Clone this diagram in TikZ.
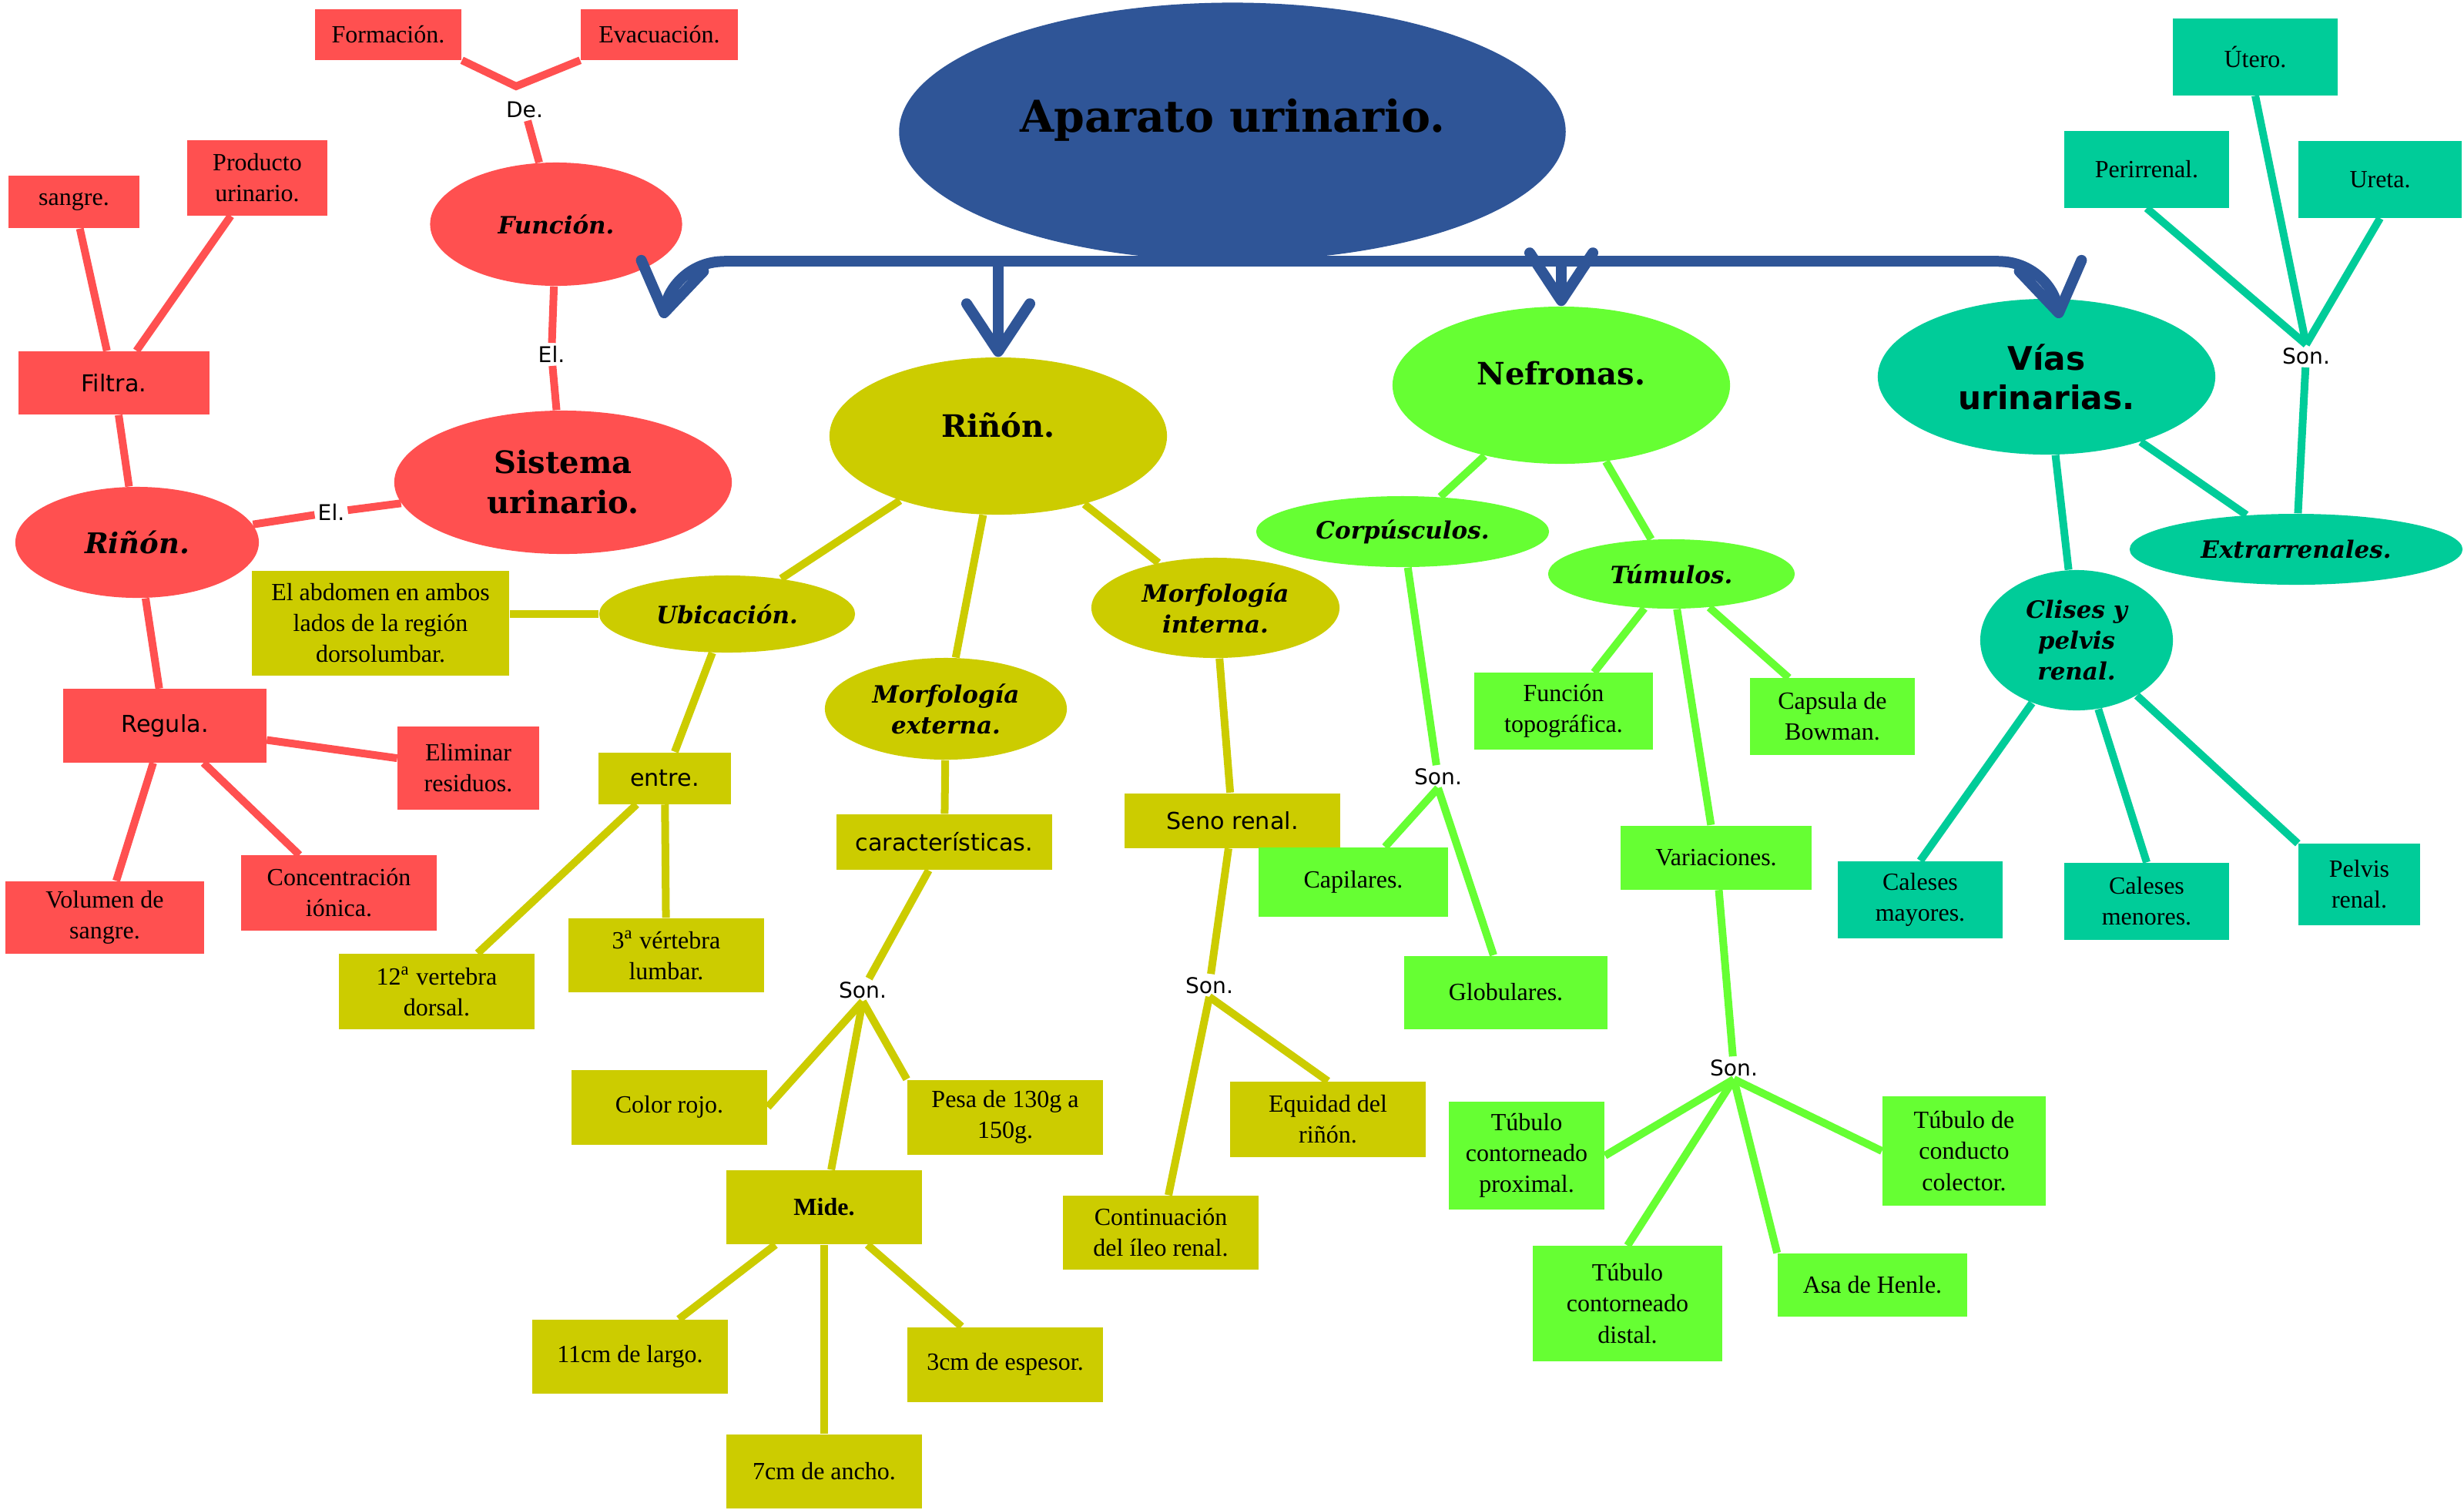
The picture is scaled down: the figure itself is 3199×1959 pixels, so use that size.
\documentclass[tikz,border=0pt]{standalone}
\usepackage{fontspec}
\setmainfont{Liberation Serif}
\newfontfamily\titulofont{DejaVu Serif}
\newfontfamily\palofont{DejaVu Sans}
\usetikzlibrary{shapes.geometric,arrows.meta}

\definecolor{rojo}{HTML}{FF5050}
\definecolor{oliva}{HTML}{CCCC00}
\definecolor{verde}{HTML}{66FF33}
\definecolor{turq}{HTML}{00CC99}
\definecolor{azul}{HTML}{2F5597}

\newcommand{\cajaf}{\fontsize{9.1pt}{11.4pt}\selectfont}
\newcommand{\titf}{\titulofont\bfseries\fontsize{11.4pt}{14.8pt}\selectfont}
\newcommand{\grandef}{\titulofont\bfseries\fontsize{16.2pt}{20pt}\selectfont}
\newcommand{\viasf}{\palofont\bfseries\fontsize{12pt}{14.5pt}\selectfont}
\newcommand{\italf}{\titulofont\bfseries\itshape\fontsize{8.8pt}{11.4pt}\selectfont}
\newcommand{\manof}{\palofont\fontsize{8.6pt}{10pt}\selectfont}
\newcommand{\nexof}{\palofont\fontsize{8pt}{10pt}\selectfont}

\begin{document}
\begin{tikzpicture}[x=0.01cm, y=-0.01cm,
    caja/.style={rectangle, inner sep=2pt, align=center, font=\cajaf},
    elip/.style={ellipse, inner sep=0pt, align=center},
    tam/.style 2 args={minimum width=#1, minimum height=#2},
    nexo/.style={inner sep=1pt, font=\nexof},
    rama/.style={line width=0.1cm},
    flecha/.style={azul, line width=0.14cm, -{Straight Barb[length=0.62cm, width=0.82cm, round]}}]
  \useasboundingbox (0,0) rectangle (3199,1959);

  % centro
  \node[elip, fill=azul, tam={8.65cm}{3.35cm}, text depth=12pt, font=\grandef] (aparato) at (1600,171) {Aparato urinario.};

  % sistema urinario (rojo)
  \node[caja, fill=rojo, tam={1.9cm}{0.65cm}] (form) at (504,45) {Formación.};
  \node[caja, fill=rojo, tam={2.04cm}{0.65cm}] (evac) at (856,45) {Evacuación.};
  \coordinate (deJ) at (670,112);
  \node[nexo] (deL) at (681,142) {De.};
  \node[elip, fill=rojo, tam={3.27cm}{1.6cm}, font=\italf] (funcion) at (722,291) {Función.};
  \node[nexo] (elA) at (716,460) {El.};
  \node[elip, fill=rojo, tam={4.38cm}{1.86cm}, font=\titf] (sistema) at (731,626) {Sistema\\urinario.};
  \node[nexo] (elB) at (430,665) {El.};
  \node[elip, fill=rojo, tam={3.16cm}{1.44cm}, font=\italf\fontsize{10.5pt}{12pt}\selectfont] (rinr) at (178,704) {Riñón.};
  \node[caja, fill=rojo, tam={1.7cm}{0.68cm}] (sangre) at (96,262) {sangre.};
  \node[caja, fill=rojo, tam={1.81cm}{0.97cm}] (producto) at (334,231) {Producto\\urinario.};
  \node[caja, fill=rojo, tam={2.47cm}{0.82cm}, font=\manof] (filtra) at (148,497) {Filtra.};
  \node[caja, fill=rojo, tam={2.63cm}{0.95cm}, font=\manof] (regula) at (214,942) {Regula.};
  \node[caja, fill=rojo, tam={1.83cm}{1.08cm}] (elim) at (608,997) {Eliminar\\residuos.};
  \node[caja, fill=rojo, tam={2.54cm}{0.97cm}] (conc) at (440,1159) {Concentración\\iónica.};
  \node[caja, fill=rojo, tam={2.58cm}{0.94cm}] (vol) at (136,1191) {Volumen de\\sangre.};

  \draw[rama, rojo] (form.south east) -- (deJ) -- (evac.south west);
  \draw[rama, rojo] (deL) -- (funcion);
  \draw[rama, rojo] (funcion) -- (elA);
  \draw[rama, rojo] (elA) -- (sistema);
  \draw[rama, rojo] (sistema) -- (elB);
  \draw[rama, rojo] (elB) -- (rinr);
  \draw[rama, rojo] (sangre) -- (filtra);
  \draw[rama, rojo] (producto) -- (filtra);
  \draw[rama, rojo] (filtra) -- (rinr);
  \draw[rama, rojo] (rinr) -- (regula);
  \draw[rama, rojo] (regula) -- (elim);
  \draw[rama, rojo] (regula) -- (conc);
  \draw[rama, rojo] (regula) -- (vol);

  % rinon (oliva)
  \node[elip, fill=oliva, tam={4.38cm}{2.04cm}, text depth=8pt, font=\titf] (riny) at (1296,566) {Riñón.};
  \node[elip, fill=oliva, tam={3.32cm}{1cm}, font=\italf] (ubic) at (944,797) {Ubicación.};
  \node[caja, fill=oliva, tam={3.34cm}{1.36cm}] (abdomen) at (494,809) {El abdomen en ambos\\lados de la región\\dorsolumbar.};
  \node[caja, fill=oliva, tam={1.72cm}{0.67cm}, font=\manof] (entre) at (863,1010) {entre.};
  \node[caja, fill=oliva, tam={2.53cm}{0.98cm}] (doce) at (567,1287) {12\textsuperscript{a} vertebra\\dorsal.};
  \node[caja, fill=oliva, tam={2.54cm}{0.96cm}] (tres) at (865,1240) {3\textsuperscript{a} vértebra\\lumbar.};
  \node[elip, fill=oliva, tam={3.14cm}{1.32cm}, font=\italf] (morfext) at (1228,920) {Morfología\\externa.};
  \node[caja, fill=oliva, tam={2.79cm}{0.72cm}, font=\manof] (carac) at (1226,1093) {características.};
  \node[nexo] (sonA) at (1120,1285) {Son.};
  \node[caja, fill=oliva, tam={2.54cm}{0.97cm}] (color) at (869,1437) {Color rojo.};
  \node[caja, fill=oliva, tam={2.54cm}{0.97cm}] (pesa) at (1305,1450) {Pesa de 130g a\\150g.};
  \node[caja, fill=oliva, tam={2.54cm}{0.96cm}, font=\cajaf\bfseries] (mide) at (1070,1567) {Mide.};
  \node[caja, fill=oliva, tam={2.53cm}{0.96cm}] (largo) at (818,1761) {11cm de largo.};
  \node[caja, fill=oliva, tam={2.54cm}{0.97cm}] (espesor) at (1305,1771) {3cm de espesor.};
  \node[caja, fill=oliva, tam={2.54cm}{0.96cm}] (ancho) at (1070,1910) {7cm de ancho.};
  \node[elip, fill=oliva, tam={3.22cm}{1.3cm}, font=\italf] (morfint) at (1578,789) {Morfología\\interna.};
  \node[caja, fill=oliva, tam={2.79cm}{0.71cm}, font=\manof] (seno) at (1600,1065) {Seno renal.};
  \node[nexo] (sonB) at (1570,1279) {Son.};
  \node[caja, fill=oliva, tam={2.54cm}{0.96cm}] (contin) at (1507,1600) {Continuación\\del íleo renal.};
  \node[caja, fill=oliva, tam={2.53cm}{0.98cm}] (equidad) at (1724,1453) {Equidad del\\riñón.};

  \draw[rama, oliva] (riny) -- (ubic);
  \draw[rama, oliva] (abdomen.east |- ubic) -- (ubic);
  \draw[rama, oliva] (ubic) -- (entre);
  \draw[rama, oliva] (entre) -- (doce);
  \draw[rama, oliva] (entre) -- (tres);
  \draw[rama, oliva] (riny) -- (morfext);
  \draw[rama, oliva] (morfext) -- (carac);
  \draw[rama, oliva] (carac) -- (sonA);
  \draw[rama, oliva] (sonA.south) -- (color.east);
  \draw[rama, oliva] (sonA.south) -- (mide);
  \draw[rama, oliva] (sonA.south) -- (pesa.north west);
  \draw[rama, oliva] (mide) -- (largo);
  \draw[rama, oliva] (mide) -- (ancho);
  \draw[rama, oliva] (mide) -- (espesor);
  \draw[rama, oliva] (riny) -- (morfint);
  \draw[rama, oliva] (morfint) -- (seno);
  \draw[rama, oliva] (seno) -- (sonB);
  \draw[rama, oliva] (sonB.south) -- (contin);
  \draw[rama, oliva] (sonB.south) -- (equidad.north);

  % nefronas (verde)
  \node[elip, fill=verde, tam={4.38cm}{2.04cm}, text depth=9pt, font=\titf] (nefr) at (2027,500) {Nefronas.};
  \node[elip, fill=verde, tam={3.8cm}{0.92cm}, font=\italf] (corp) at (1821,690) {Corpúsculos.};
  \node[elip, fill=verde, tam={3.2cm}{0.9cm}, font=\italf] (tumu) at (2170,745) {Túmulos.};
  \node[nexo] (sonC) at (1867,1008) {Son.};
  \node[caja, fill=verde, tam={2.46cm}{0.9cm}] (capil) at (1757,1145) {Capilares.};
  \node[caja, fill=verde, tam={2.63cm}{0.95cm}] (glob) at (1955,1288) {Globulares.};
  \node[caja, fill=verde, tam={2.31cm}{0.99cm}] (ftopo) at (2030,923) {Función\\topográfica.};
  \node[caja, fill=verde, tam={2.14cm}{0.99cm}] (capsula) at (2379,930) {Capsula de\\Bowman.};
  \node[caja, fill=verde, tam={2.47cm}{0.83cm}] (variac) at (2228,1113) {Variaciones.};
  \node[nexo] (sonD) at (2251,1386) {Son.};
  \node[caja, fill=verde, tam={2.02cm}{1.39cm}] (prox) at (1982,1500) {Túbulo\\contorneado\\proximal.};
  \node[caja, fill=verde, tam={2.46cm}{1.49cm}] (distal) at (2113,1692) {Túbulo\\contorneado\\distal.};
  \node[caja, fill=verde, tam={2.46cm}{0.82cm}] (asa) at (2431,1668) {Asa de Henle.};
  \node[caja, fill=verde, tam={2.12cm}{1.41cm}] (colector) at (2550,1494) {Túbulo de\\conducto\\colector.};

  \draw[rama, verde] (nefr) -- (corp);
  \draw[rama, verde] (nefr) -- (tumu);
  \draw[rama, verde] (corp) -- (sonC);
  \draw[rama, verde] (sonC.south) -- (capil);
  \draw[rama, verde] (sonC.south) -- (glob);
  \draw[rama, verde] (tumu) -- (ftopo);
  \draw[rama, verde] (tumu) -- (capsula);
  \draw[rama, verde] (tumu) -- (variac);
  \draw[rama, verde] (variac) -- (sonD);
  \draw[rama, verde] (sonD.south) -- (prox.east);
  \draw[rama, verde] (sonD.south) -- (distal.north);
  \draw[rama, verde] (sonD.south) -- (asa.north west);
  \draw[rama, verde] (sonD.south) -- (colector.west);

  % vias urinarias (turquesa)
  \node[elip, fill=turq, tam={4.38cm}{2.02cm}, font=\viasf] (vias) at (2657,489) {Vías\\urinarias.};
  \node[nexo] (sonE) at (2994,462) {Son.};
  \node[caja, fill=turq, tam={2.14cm}{0.99cm}] (utero) at (2928,74) {Útero.};
  \node[caja, fill=turq, tam={2.14cm}{0.99cm}] (perir) at (2787,220) {Perirrenal.};
  \node[caja, fill=turq, tam={2.12cm}{0.99cm}] (ureta) at (3090,233) {Ureta.};
  \node[elip, fill=turq, tam={4.32cm}{0.92cm}, font=\italf] (extra) at (2981,713) {Extrarrenales.};
  \node[elip, fill=turq, tam={2.5cm}{1.82cm}, font=\italf] (clises) at (2696,831) {Clises y\\pelvis\\renal.};
  \node[caja, fill=turq, tam={2.14cm}{1cm}] (calmay) at (2493,1168) {Caleses\\mayores.};
  \node[caja, fill=turq, tam={2.14cm}{1cm}] (calmen) at (2787,1170) {Caleses\\menores.};
  \node[caja, fill=turq, tam={1.58cm}{1.05cm}] (pelvis) at (3063,1148) {Pelvis\\renal.};

  \draw[rama, turq] (vias) -- (clises);
  \draw[rama, turq] (vias) -- (extra);
  \draw[rama, turq] (perir.south) -- (sonE.north);
  \draw[rama, turq] (utero.south) -- (sonE.north);
  \draw[rama, turq] (ureta.south) -- (sonE.north);
  \draw[rama, turq] (sonE) -- (extra);
  \draw[rama, turq] (clises) -- (calmay.north);
  \draw[rama, turq] (clises) -- (calmen.north);
  \draw[rama, turq] (clises) -- (pelvis.north west);

  % flechas azules
  \path (aparato.south) ++(-660,0) coordinate (barL) ++(1655,0) coordinate (barR);
  \coordinate (puntaF) at (861,413);
  \coordinate (puntaV) at (2674,413);
  \draw[azul, line width=0.14cm] (barL) -- (barR);
  \draw[flecha] (barL) to[out=180, in=80] (puntaF);
  \draw[flecha] (barR) to[out=0, in=100] (puntaV);
  \draw[flecha] (riny.north |- barL) -- (riny.north);
  \draw[flecha] (nefr.north |- barL) -- (nefr.north);
\end{tikzpicture}
\end{document}
